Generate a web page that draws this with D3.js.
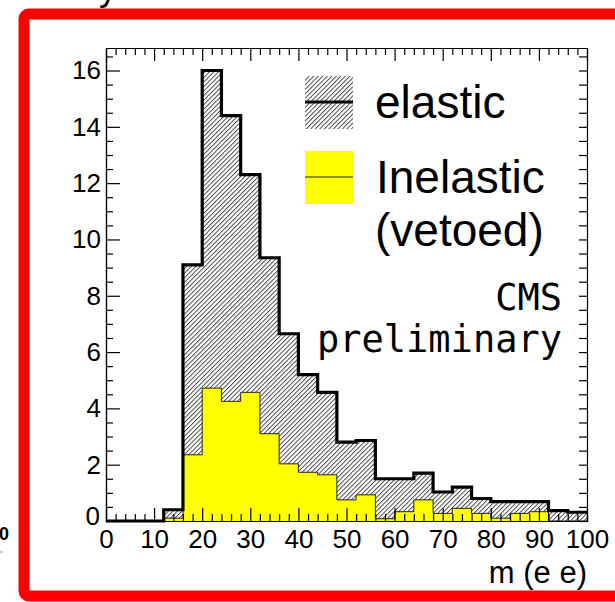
<!DOCTYPE html>
<html>
<head>
<meta charset="utf-8">
<script src="https://cdn.jsdelivr.net/npm/d3@7"></script>
<style>
  body { margin: 0; background: #fff; }
  svg { display: block; }
  text { font-family: "Liberation Sans", Arial, sans-serif; fill: #000; }
</style>
</head>
<body>
<div id="chart"></div>
<script>
// bin edges (4 GeV wide) and contents
var binEdges = [0, 4, 8, 12, 16, 20, 24, 28, 32, 36, 40, 44, 48, 52, 56, 60, 64, 68, 72, 76, 80, 84, 88, 92, 96, 100];
var elastic = [0, 0, 0, 0.4, 9.1, 16.0, 14.4, 12.3, 9.35, 6.65, 5.2, 4.57, 2.8, 2.86, 1.5, 1.5, 1.7, 1.03, 1.2, 0.8, 0.69, 0.69, 0.69, 0.37, 0.31];
var inelastic = [0, 0, 0, 0.1, 2.35, 4.72, 4.25, 4.57, 3.1, 2.03, 1.73, 1.64, 0.75, 0.93, 0.08, 0.33, 0.75, 0.27, 0.45, 0.27, 0.1, 0.27, 0.33, 0, 0];
var xTicks = [0, 10, 20, 30, 40, 50, 60, 70, 80, 90, 100];
var yTicks = [0, 2, 4, 6, 8, 10, 12, 14, 16];
var legendLabels = ["elastic", "Inelastic", "(vetoed)"];

var W = 615, H = 602;

var svg = d3.select("#chart").append("svg")
    .attr("width", W)
    .attr("height", H);

// hatch pattern (ROOT style 3004)
var defs = svg.append("defs");
defs.append("pattern")
    .attr("id", "hatch")
    .attr("patternUnits", "userSpaceOnUse")
    .attr("width", 3.2)
    .attr("height", 3.2)
    .attr("patternTransform", "rotate(45)")
  .append("line")
    .attr("x1", 0.5).attr("y1", 0)
    .attr("x2", 0.5).attr("y2", 3.2)
    .attr("stroke", "#3a3a3a")
    .attr("stroke-width", 0.9);

// red frame around the panel
svg.append("rect")
    .attr("x", 24).attr("y", 14)
    .attr("width", 640).attr("height", 582)
    .attr("rx", 5)
    .attr("fill", "none")
    .attr("stroke", "#ff0000")
    .attr("stroke-width", 11);

// bits of neighbouring panels that are cut off
svg.append("text").attr("x", 99).attr("y", 0)
    .style("font-size", "36px").text("y");
svg.append("text").attr("x", 9).attr("y", 540)
    .attr("text-anchor", "end")
    .style("font-size", "18px").style("font-weight", "bold").text("10");
svg.append("line").attr("x1", 0).attr("x2", 3).attr("y1", 552).attr("y2", 552)
    .attr("stroke", "#888");

//set scales
var x = d3.scaleLinear().domain([0, 100]).range([106, 587]);
var y = d3.scaleLinear().domain([0, 16.8]).range([521, 48]);

function steps(vals) {
  var pts = vals.map(function(v, i) { return [binEdges[i], v]; });
  pts.push([binEdges[binEdges.length - 1], vals[vals.length - 1]]);
  return pts;
}

var area = d3.area()
    .curve(d3.curveStepAfter)
    .x(function(d) { return x(d[0]); })
    .y0(y(0))
    .y1(function(d) { return y(d[1]); });

var line = d3.line()
    .curve(d3.curveStepAfter)
    .x(function(d) { return x(d[0]); })
    .y(function(d) { return y(d[1]); });

//elastic: hatched with thick outline
svg.append("path")
    .datum(steps(elastic))
    .attr("d", area)
    .attr("fill", "url(#hatch)");

//inelastic: yellow on top
svg.append("path")
    .datum(steps(inelastic))
    .attr("d", area)
    .attr("fill", "#ffff00");
svg.append("path")
    .datum(steps(inelastic))
    .attr("d", line)
    .attr("fill", "none")
    .attr("stroke", "#222")
    .attr("stroke-width", 1);

svg.append("path")
    .datum(steps(elastic))
    .attr("d", line)
    .attr("fill", "none")
    .attr("stroke", "#000")
    .attr("stroke-width", 3.2)
    .attr("stroke-linejoin", "miter");

// minor tick values
var xMinor = d3.range(0, 100.01, 2).filter(function(v) { return v % 10 !== 0; });
var yMinor = d3.range(0, 16.81, 0.5).filter(function(v) { return v % 2 !== 0; });

function styleAxis(g) {
  g.select(".domain").attr("stroke", "#000").attr("stroke-width", 1.2);
  g.selectAll(".tick line").attr("stroke", "#000").attr("stroke-width", 1.2);
  g.selectAll("text").style("font-family", "Liberation Sans, Arial, sans-serif")
    .style("font-size", "26px").attr("fill", "#000");
}

//x-axis
var gx = svg.append("g")
    .attr("transform", "translate(0," + y(0) + ")")
    .call(d3.axisBottom(x).tickValues(xTicks).tickSize(-13).tickSizeOuter(0).tickPadding(4));
styleAxis(gx);
gx.selectAll("text").attr("dy", "0.88em");
svg.append("g")
    .attr("transform", "translate(0," + y(0) + ")")
    .call(d3.axisBottom(x).tickValues(xMinor).tickSize(-7).tickFormat(""))
    .call(styleAxis);

//y-axis
var gy = svg.append("g")
    .attr("transform", "translate(" + x(0) + ",0)")
    .call(d3.axisLeft(y).tickValues(yTicks).tickSize(-14).tickSizeOuter(0).tickPadding(5));
styleAxis(gy);
gy.selectAll(".tick").filter(function(d) { return d === 0; })
    .select("text").attr("dy", "0.15em").attr("x", -6);
svg.append("g")
    .attr("transform", "translate(" + x(0) + ",0)")
    .call(d3.axisLeft(y).tickValues(yMinor).tickSize(-7).tickFormat(""))
    .call(styleAxis);

//top and right axes, ticks only
svg.append("g")
    .attr("transform", "translate(0," + y(16.8) + ")")
    .call(d3.axisTop(x).tickValues(xTicks).tickSize(-13).tickSizeOuter(0).tickFormat(""))
    .call(styleAxis);
svg.append("g")
    .attr("transform", "translate(0," + y(16.8) + ")")
    .call(d3.axisTop(x).tickValues(xMinor).tickSize(-7).tickSizeOuter(0).tickFormat(""))
    .call(styleAxis);
svg.append("g")
    .attr("transform", "translate(" + x(100) + ",0)")
    .call(d3.axisRight(y).tickValues(yTicks.concat(yMinor)).tickSize(-8).tickSizeOuter(0).tickFormat(""))
    .call(styleAxis);

//axis title
svg.append("text")
    .attr("x", x(100)).attr("y", 583)
    .attr("text-anchor", "end")
    .style("font-size", "31px")
    .text("m (e e)");

//legend
svg.append("rect").attr("x", 305).attr("y", 76).attr("width", 48).attr("height", 53)
    .attr("fill", "url(#hatch)");
svg.append("line").attr("x1", 305).attr("x2", 353).attr("y1", 102).attr("y2", 102)
    .attr("stroke", "#000").attr("stroke-width", 3.2);
svg.append("rect").attr("x", 305).attr("y", 151).attr("width", 48).attr("height", 53)
    .attr("fill", "#ffff00");
svg.append("line").attr("x1", 305).attr("x2", 353).attr("y1", 177).attr("y2", 177)
    .attr("stroke", "#222").attr("stroke-width", 1);

svg.append("text").attr("x", 375).attr("y", 118).style("font-size", "46px").text(legendLabels[0]);
svg.append("text").attr("x", 376).attr("y", 193).style("font-size", "46px").text(legendLabels[1]);
svg.append("text").attr("x", 375).attr("y", 246).style("font-size", "46px").text(legendLabels[2]);

//CMS label
svg.append("text").attr("x", 562).attr("y", 310).attr("text-anchor", "end")
    .style("font-family", "DejaVu Sans Mono, monospace").style("font-size", "37px").text("CMS");
svg.append("text").attr("x", 562).attr("y", 352).attr("text-anchor", "end")
    .style("font-family", "DejaVu Sans Mono, monospace").style("font-size", "37px").text("preliminary");
</script>
</body>
</html>
